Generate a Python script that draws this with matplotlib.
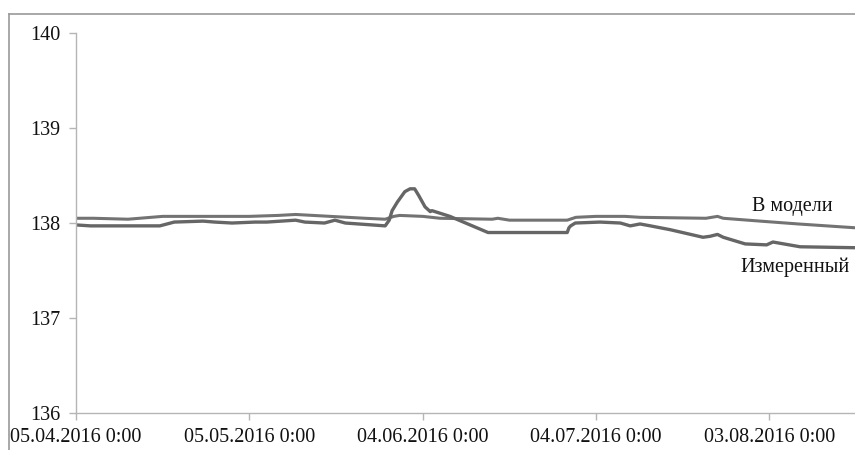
import numpy as np
import pandas as pd
import matplotlib
matplotlib.use('Agg')
import matplotlib.pyplot as plt
from matplotlib.lines import Line2D

plt.rcParams['font.family'] = ['Liberation Serif', 'DejaVu Serif']

# data: days since 05.04.2016 0:00
start = pd.Timestamp('2016-04-05 00:00')

model_day = [0, 3, 9, 15, 21, 30, 35, 38, 44, 50, 53.5, 55, 56, 60, 63, 72, 73,
             75, 85, 86.5, 90, 95, 97.6, 109, 111, 112, 118.4, 125, 134.8]
model_val = [138.05, 138.05, 138.04, 138.07, 138.07, 138.07, 138.08, 138.09, 138.07,
             138.05, 138.04, 138.07, 138.08, 138.07, 138.05, 138.04, 138.05, 138.03,
             138.03, 138.06, 138.07, 138.07, 138.06, 138.05, 138.07, 138.05, 138.02,
             137.99, 137.95]

meas_day = [0, 2.5, 14.5, 17, 22, 24, 27, 31, 33, 38, 39.6, 43, 44.8, 46.6, 53.5,
            54.2, 54.7, 55.6, 56.9, 57.8, 58.6, 59.3, 60.4, 61.3, 61.6, 64.7, 71.3,
            85, 85.3, 85.6, 86.4, 90.7, 94.2, 95.9, 97.6, 99.4, 102.8, 108.5, 109.7,
            111, 112, 115.8, 119.5, 120.6, 125.3, 134.8]
meas_val = [137.98, 137.97, 137.97, 138.01, 138.02, 138.01, 138.00, 138.01, 138.01,
            138.03, 138.01, 138.00, 138.03, 138.00, 137.97, 138.03, 138.13, 138.22,
            138.33, 138.36, 138.36, 138.29, 138.17, 138.12, 138.13, 138.07, 137.90,
            137.90, 137.95, 137.97, 138.00, 138.01, 138.00, 137.97, 137.99, 137.97,
            137.93, 137.85, 137.86, 137.88, 137.85, 137.78, 137.77, 137.80, 137.75,
            137.74]

tick_day = [0, 30, 60, 90, 120]
tick_labels = ['05.04.2016 0:00', '05.05.2016 0:00', '04.06.2016 0:00',
               '04.07.2016 0:00', '03.08.2016 0:00']

model_t = start + pd.to_timedelta(model_day, unit='D')
meas_t = start + pd.to_timedelta(meas_day, unit='D')
tick_t = start + pd.to_timedelta(tick_day, unit='D')

fig = plt.figure(figsize=(8.55, 4.5), dpi=100)
ax = fig.add_axes([0.0889, 0.0822, 0.9111, 0.8444])

ax.plot(model_t, model_val, color='#737373', lw=2.2)
ax.plot(meas_t, meas_val, color='#666666', lw=2.4)

ax.set_ylim(136, 140)
ax.set_yticks([136, 137, 138, 139, 140])
ax.set_xlim(start, start + pd.Timedelta(days=134.8))
ax.set_xticks(tick_t)
ax.set_xticklabels(tick_labels)

for s in ['top', 'right']:
    ax.spines[s].set_visible(False)
for s in ['left', 'bottom']:
    ax.spines[s].set_color('#b5b5b5')
    ax.spines[s].set_linewidth(1.0)
ax.tick_params(axis='both', colors='#b5b5b5', labelcolor='#111111', labelsize=14.5,
               length=5, width=1.0)
ax.tick_params(axis='y', pad=6)
ax.tick_params(axis='x', pad=6)

ax.text(start + pd.Timedelta(days=117), 138.17, 'В модели', fontsize=14.5,
        va='center', ha='left', color='#111111')
ax.text(start + pd.Timedelta(days=115), 137.53, 'Измеренный', fontsize=14.5,
        va='center', ha='left', color='#111111')

# outer chart frame
fig.add_artist(Line2D([0.0105, 0.0105], [0, 0.9689], color='#9a9a9a', lw=1.2,
                      transform=fig.transFigure))
fig.add_artist(Line2D([0.0105, 1.0], [0.9689, 0.9689], color='#9a9a9a', lw=1.2,
                      transform=fig.transFigure))

fig.savefig('out.png', dpi=100, facecolor='white')
